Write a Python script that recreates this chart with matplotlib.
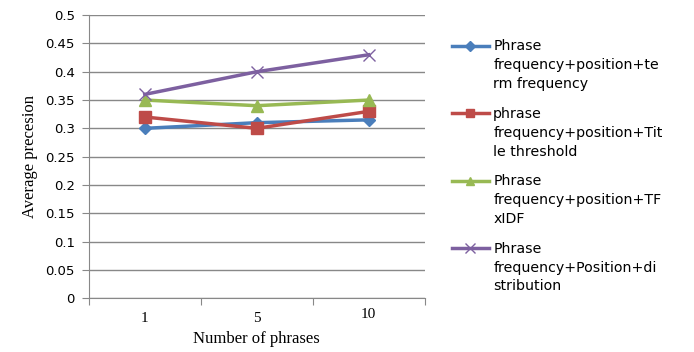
import numpy as np
import matplotlib
matplotlib.use("Agg")
import matplotlib.pyplot as plt

# data
phrases = ["1", "5", "10"]
tf_vals = [0.30, 0.31, 0.315]
title_vals = [0.32, 0.30, 0.33]
tfidf_vals = [0.35, 0.34, 0.35]
dist_vals = [0.36, 0.40, 0.43]

labels = ["Phrase\nfrequency+position+te\nrm frequency",
          "phrase\nfrequency+position+Tit\nle threshold",
          "Phrase\nfrequency+position+TF\nxIDF",
          "Phrase\nfrequency+Position+di\nstribution"]

fig = plt.figure(figsize=(6.94, 3.52), dpi=100)
ax = fig.add_axes([0.128, 0.153, 0.484, 0.804])

x = np.arange(len(phrases))
ax.plot(x, tf_vals, color="#4A7EBB", marker="D", markersize=6, linewidth=2.5, label=labels[0])
ax.plot(x, title_vals, color="#BE4B48", marker="s", markersize=8, linewidth=2.5, label=labels[1])
ax.plot(x, tfidf_vals, color="#98B954", marker="^", markersize=8, linewidth=2.5, label=labels[2])
ax.plot(x, dist_vals, color="#7D60A0", marker="x", markersize=9, markeredgewidth=1, linewidth=2.5, label=labels[3])

ax.set_xlim(-0.5, 2.5)
ax.set_ylim(0, 0.5)
ax.set_yticks(np.arange(0, 0.501, 0.05))
ax.set_yticklabels(["0", "0.05", "0.1", "0.15", "0.2", "0.25", "0.3", "0.35", "0.4", "0.45", "0.5"])
ax.set_xticks([-0.5, 0.5, 1.5, 2.5])
ax.set_xticklabels([])
ax.set_xticks(x, minor=True)
ax.set_xticklabels(phrases, minor=True, family="Liberation Serif", fontsize=11)
ax.tick_params(axis="x", which="minor", length=0, pad=10)
ax.tick_params(axis="x", which="major", length=5, color="#888888", direction="out")
ax.tick_params(axis="y", length=5, color="#888888", labelsize=9.5, pad=5)
for lab in ax.get_xticklabels(minor=True):
    if lab.get_text() == "10":
        lab.set_x(2.35)
        lab.set_y(0.015)

ax.grid(axis="y", color="#888888", linewidth=1)
ax.set_axisbelow(True)
for s in ["top", "right"]:
    ax.spines[s].set_visible(False)
ax.spines["left"].set_color("#888888")
ax.spines["bottom"].set_color("#888888")

ax.set_xlabel("Number of phrases", family="Liberation Serif", fontsize=12, labelpad=4)
ax.set_ylabel("Average precesion", family="Liberation Serif", fontsize=12, labelpad=5)

fs = 10.2
ls = 1.45
leg = fig.legend(loc="upper left", bbox_to_anchor=(0.633, 0.925), frameon=False,
                 fontsize=fs, handlelength=2.6, handletextpad=0.3, labelspacing=1.1,
                 markerscale=0.8)
for t in leg.get_texts():
    t.set_linespacing(ls)
# put the handle next to the first line of each label
for h in leg.legend_handles:
    h.set_ydata(np.asarray(h.get_ydata()) + ls * fs * 1.17 - 3)

fig.savefig("out.png", dpi=100)
